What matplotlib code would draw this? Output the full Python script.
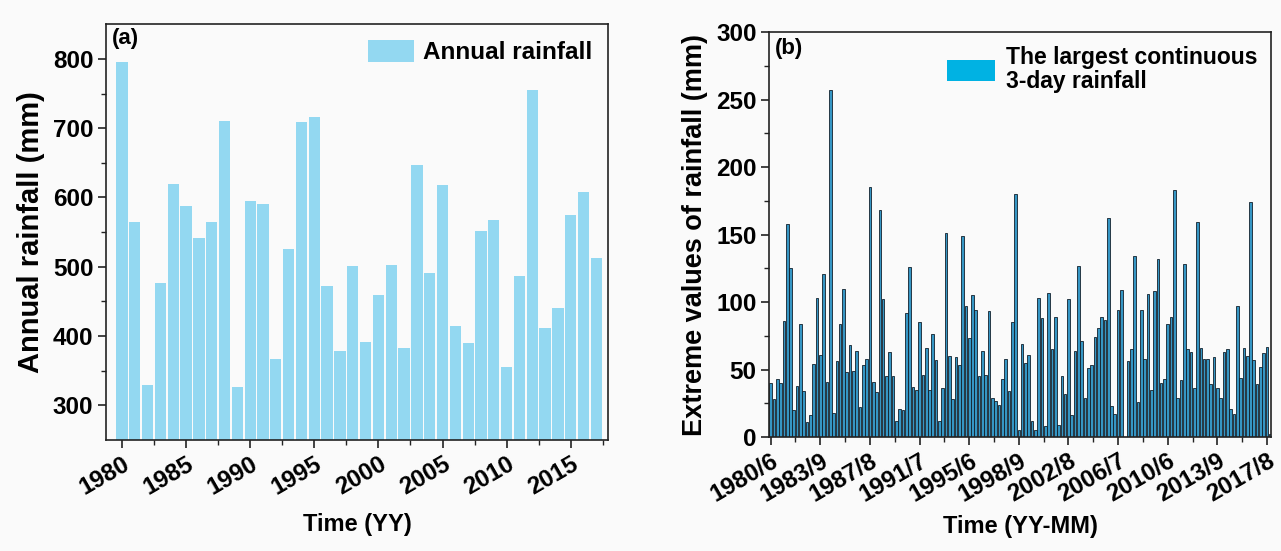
import numpy as np
import matplotlib
matplotlib.use("Agg")
import matplotlib.pyplot as plt
from matplotlib.ticker import MultipleLocator, FixedLocator

plt.rcParams['font.family'] = ['Liberation Sans', 'DejaVu Sans']
plt.rcParams['font.weight'] = 'bold'
plt.rcParams['axes.labelweight'] = 'bold'

# ---- data -----------------------------------------------------------------
years = list(range(1980, 2018))
annual_rainfall = [796, 565, 329, 476, 619, 588, 541, 565, 711, 326,
                   595, 590, 367, 526, 709, 716, 472, 379, 501, 392,
                   459, 503, 383, 647, 491, 618, 415, 390, 552, 567,
                   355, 486, 755, 412, 441, 574, 608, 513]

flood_months = [6, 7, 8, 9]
period_labels = [f"{y}/{m}" for y in years for m in flood_months]
extreme_rainfall = [
    40, 28, 43, 40, 86, 158, 125, 20, 38, 84, 34, 11, 16, 54, 103, 61,
    121, 41, 257, 18, 56, 84, 110, 48, 68, 49, 64, 22, 53, 58, 185, 41,
    33, 168, 102, 45, 63, 45, 12, 21, 20, 92, 126, 37, 35, 85, 46, 66,
    35, 76, 57, 12, 36, 151, 60, 28, 59, 53, 149, 97, 73, 105, 94, 45,
    64, 46, 93, 29, 27, 24, 43, 58, 34, 85, 180, 5, 69, 55, 61, 12,
    5, 103, 88, 8, 107, 65, 89, 9, 45, 32, 102, 16, 64, 127, 71, 29,
    51, 53, 74, 81, 89, 87, 162, 23, 17, 94, 109, 0, 56, 65, 134, 26,
    94, 58, 106, 35, 108, 132, 40, 43, 84, 89, 183, 29, 42, 128, 65, 63,
    36, 159, 66, 58, 58, 39, 59, 36, 29, 63, 65, 21, 17, 97, 44, 66,
    60, 174, 57, 39, 52, 62, 67, 2]

# ---- figure ---------------------------------------------------------------
fig = plt.figure(figsize=(12.81, 5.51), dpi=100, facecolor='#fafafa')

TICK_FS = 17.5
XLABEL_FS = 17


def style_axes(ax):
    ax.set_facecolor('#fafafa')
    for s in ax.spines.values():
        s.set_linewidth(1.2)
        s.set_color('#222222')
    ax.tick_params(which='major', direction='out', length=6, width=1.2,
                   labelsize=TICK_FS, color='#222222', pad=3)
    ax.tick_params(which='minor', direction='out', length=3.5, width=1.0,
                   color='#222222')
    for lab in ax.get_yticklabels() + ax.get_xticklabels():
        lab.set_fontweight('bold')


# (a) annual rainfall
ax1 = fig.add_axes([0.0827, 0.2015, 0.3919, 0.7545])
ax1.bar(years, annual_rainfall, width=0.88, color='#93d8f1',
        label='Annual rainfall', zorder=2)
ax1.set_xlim(1978.75, 2017.9)
ax1.set_ylim(250, 850)
ax1.xaxis.set_major_locator(MultipleLocator(5))
ax1.xaxis.set_minor_locator(MultipleLocator(2.5))
ax1.yaxis.set_major_locator(FixedLocator([300, 400, 500, 600, 700, 800]))
ax1.yaxis.set_minor_locator(FixedLocator([350, 450, 550, 650, 750]))
style_axes(ax1)
plt.setp(ax1.get_xticklabels(), rotation=30, ha='right',
         rotation_mode='anchor')
ax1.set_xlabel('Time (YY)', fontsize=XLABEL_FS, fontweight='bold',
               labelpad=10)
ax1.set_ylabel('Annual rainfall (mm)', fontsize=21,
               fontweight='bold', labelpad=6)
ax1.text(0.012, 0.99, '(a)', transform=ax1.transAxes, fontsize=16,
         fontweight='bold', va='top', ha='left')
ax1.legend(loc='upper right', frameon=False,
           handlelength=1.9, handleheight=1.0, borderaxespad=0.25,
           handletextpad=0.35, prop={'weight': 'bold', 'size': 17.5})

# (b) largest continuous 3-day rainfall per flood-season month
ax2 = fig.add_axes([0.6003, 0.2069, 0.3919, 0.7350])
pos = np.arange(len(extreme_rainfall))
ax2.bar(pos, extreme_rainfall, width=0.8, color='#3696c4',
        edgecolor='#12202b', linewidth=0.6, zorder=2,
        label='The largest continuous\n3-day rainfall')
ax2.set_xlim(-0.5, 151.2)
ax2.set_ylim(0, 300)
major_idx = pos[::15]
ax2.set_xticks(major_idx)
ax2.set_xticklabels([period_labels[i] for i in major_idx])
ax2.xaxis.set_minor_locator(FixedLocator(major_idx[:-1] + 7.5))
ax2.yaxis.set_major_locator(MultipleLocator(50))
ax2.yaxis.set_minor_locator(MultipleLocator(25))
style_axes(ax2)
plt.setp(ax2.get_xticklabels(), rotation=30, ha='right',
         rotation_mode='anchor')
ax2.set_xlabel('Time (YY-MM)', fontsize=XLABEL_FS, fontweight='bold',
               labelpad=6)
ax2.set_ylabel('Extreme values of rainfall (mm)', fontsize=19.5,
               fontweight='bold', labelpad=6)
ax2.text(0.012, 0.985, '(b)', transform=ax2.transAxes, fontsize=16,
         fontweight='bold', va='top', ha='left')
leg2 = ax2.legend(loc='upper right', frameon=False, handlelength=2.1,
                  handleheight=1.0, borderaxespad=0.2, handletextpad=0.45,
                  labelspacing=0.2,
                  prop={'weight': 'bold', 'size': 16.5})
for h in leg2.legend_handles:
    h.set_facecolor('#00b2e3')
    h.set_edgecolor('none')
for t in leg2.get_texts():
    t.set_linespacing(1.05)

fig.savefig('out.png', dpi=100, facecolor=fig.get_facecolor())
